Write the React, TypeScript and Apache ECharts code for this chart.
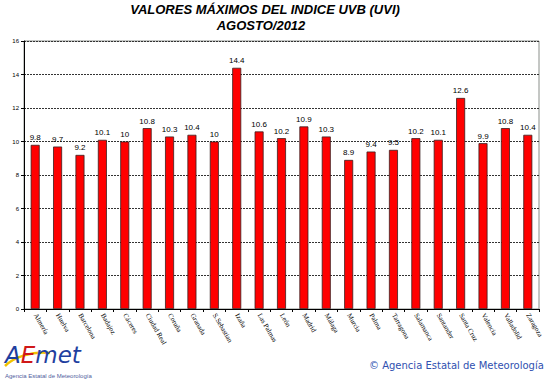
import React, { useEffect, useRef } from "react";
import * as echarts from "echarts";

const categories = [
  "Almería", "Huelva", "Barcelona", "Badajoz", "Cáceres", "Ciudad Real", "Coruña",
  "Granada", "S.Sebastian", "Izaña", "Las Palmas", "León", "Madrid", "Málaga",
  "Murcia", "Palma", "Tarragona", "Salamanca", "Santander", "Santa Cruz",
  "Valencia", "Valladolid", "Zaragoza",
];
const values = [
  9.8, 9.7, 9.2, 10.1, 10, 10.8, 10.3, 10.4, 10, 14.4, 10.6, 10.2, 10.9, 10.3,
  8.9, 9.4, 9.5, 10.2, 10.1, 12.6, 9.9, 10.8, 10.4,
];
const titleLines = ["VALORES MÁXIMOS DEL INDICE UVB (UVI)", "AGOSTO/2012"];

export default function App() {
  const ref = useRef<HTMLDivElement>(null);
  useEffect(() => {
    document.body.style.margin = "0";
    if (!ref.current) return;
    const chart = echarts.init(ref.current, undefined, { renderer: "svg" });
    const titleStyle = {
      textAlign: "center",
      fontFamily: "Liberation Sans",
      fontWeight: "bold",
      fontStyle: "italic",
      fontSize: 13,
      fill: "#000",
    };
    chart.setOption({
      animation: false,
      backgroundColor: "#ffffff",
      grid: { left: 24, right: 11, top: 41, bottom: 72, show: true, borderColor: "#8a8f8a", borderWidth: 1 },
      xAxis: {
        type: "category",
        data: categories,
        axisLine: { lineStyle: { color: "#000", width: 1 } },
        axisTick: { show: true, alignWithLabel: false, length: 3, lineStyle: { color: "#000" } },
        axisLabel: {
          rotate: -60,
          interval: 0,
          fontFamily: "Liberation Serif",
          fontSize: 7,
          color: "#000",
          margin: 5,
        },
      },
      yAxis: {
        type: "value",
        min: 0,
        max: 16,
        interval: 2,
        axisLine: { show: true, lineStyle: { color: "#000", width: 1 } },
        axisTick: { show: true, length: 3, lineStyle: { color: "#000" } },
        axisLabel: { fontFamily: "Liberation Sans", fontSize: 6, color: "#000", margin: 5 },
        splitLine: { show: true, lineStyle: { color: "#333", type: [2, 1], width: 1 } },
      },
      series: [
        {
          type: "bar",
          data: values,
          barWidth: 9,
          itemStyle: { color: "#ff0000", borderColor: "#3a2020", borderWidth: 0.8 },
          label: {
            show: true,
            position: "top",
            distance: 3,
            fontFamily: "Liberation Sans",
            fontSize: 8,
            color: "#000",
          },
        },
      ],
      graphic: [
        { type: "text", x: 265, y: 3, style: { ...titleStyle, text: titleLines[0] } },
        { type: "text", x: 261, y: 19, style: { ...titleStyle, text: titleLines[1] } },
        {
          type: "bezierCurve",
          shape: { x1: 5, y1: 366, x2: 50, y2: 353, cpx1: 14, cpy1: 357, cpx2: 32, cpy2: 351 },
          style: { stroke: "#f2c200", lineWidth: 2.5, fill: "none" },
        },
        {
          type: "text",
          x: 5,
          y: 343,
          style: {
            text: "{a|A}{e|E}{a|met}",
            rich: {
              a: { fontFamily: "DejaVu Sans", fontStyle: "italic", fontSize: 23, fill: "#1f3f9f" },
              e: { fontFamily: "DejaVu Sans", fontStyle: "italic", fontSize: 23, fill: "#d01818" },
            },
          },
        },
        {
          type: "text",
          x: 5,
          y: 373,
          style: { text: "Agencia Estatal de Meteorología", fontFamily: "Liberation Sans", fontSize: 6, fill: "#5060a0" },
        },
        {
          type: "text",
          x: 369,
          y: 360,
          style: { text: "© Agencia Estatal de Meteorología", fontFamily: "DejaVu Sans", fontSize: 10, fill: "#3050b0" },
        },
      ],
    });
    return () => chart.dispose();
  }, []);
  return <div ref={ref} style={{ width: 550, height: 381 }} />;
}
